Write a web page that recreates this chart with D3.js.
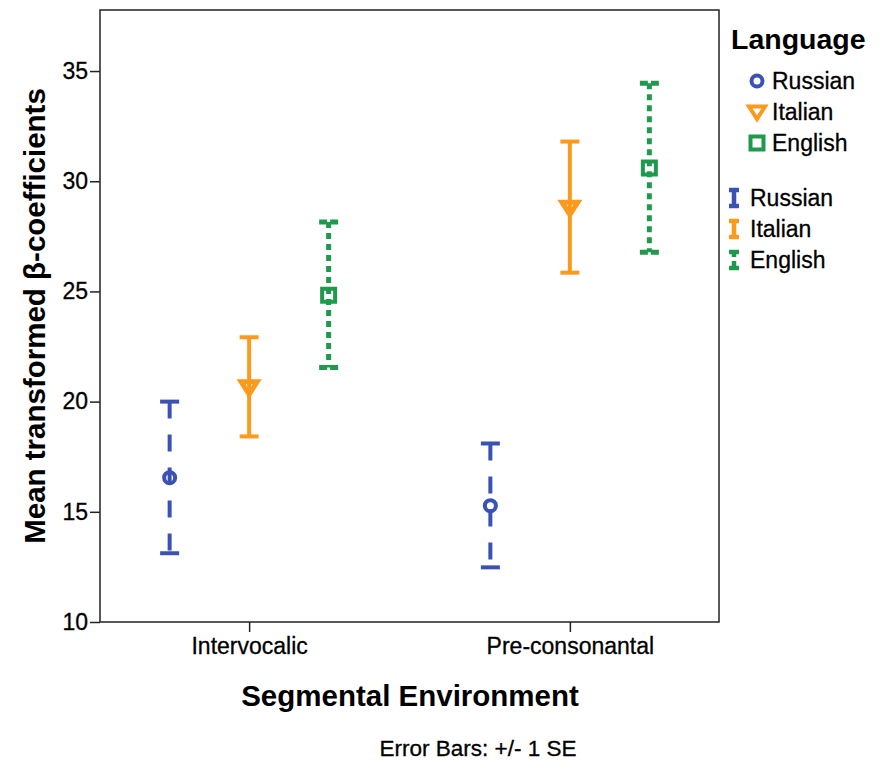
<!DOCTYPE html>
<html>
<head>
<meta charset="utf-8">
<script src="https://cdn.jsdelivr.net/npm/d3@7"></script>
<style>
  body { margin: 0; background: #fff; overflow: hidden; }
  svg { display: block; }
  text { font-family: "Liberation Sans", Arial, sans-serif; }
</style>
</head>
<body>
<div id="chart"></div>
<script>
// data
const environments = ["Intervocalic", "Pre-consonantal"];
const languages = ["Russian", "Italian", "English"];
const means = {
  Russian: [16.55, 15.28],
  Italian: [20.65, 28.8],
  English: [24.83, 30.6]
};
const lower = {
  Russian: [13.12, 12.48],
  Italian: [18.42, 25.85],
  English: [21.55, 26.78]
};
const upper = {
  Russian: [20.0, 18.1],
  Italian: [22.92, 31.8],
  English: [28.15, 34.45]
};
const yTicks = [10, 15, 20, 25, 30, 35];

const colors = { Russian: "#3a52b4", Italian: "#fb9a1d", English: "#1f9a4d" };
const dashes = { Russian: "17,16", Italian: null, English: "6,5" };
const widths = { Russian: 4, Italian: 4, English: 5 };

const w = 887, h = 761;
const margin = { top: 10, right: 168, bottom: 139, left: 100 };
const innerWidth = w - margin.left - margin.right;
const innerHeight = h - margin.top - margin.bottom;

const svg = d3.select("#chart").append("svg")
  .attr("width", w)
  .attr("height", h);

const xScale = d3.scalePoint()
  .domain(environments)
  .range([0, innerWidth])
  .padding(0.465);

const langScale = d3.scalePoint()
  .domain(languages)
  .range([-79.5, 79.5]);

const yScale = d3.scaleLinear()
  .domain([10, 37.77])
  .range([innerHeight, 0]);

const g = svg.append("g")
  .attr("transform", `translate(${margin.left},${margin.top})`);

// frame
g.append("rect")
  .attr("width", innerWidth)
  .attr("height", innerHeight)
  .attr("fill", "none")
  .attr("stroke", "#222")
  .attr("stroke-width", 1.5);

// axes
const yAxis = d3.axisLeft(yScale).tickValues(yTicks).tickSize(10).tickPadding(2);
const xAxis = d3.axisBottom(xScale).tickSize(10).tickPadding(6);

g.append("g").call(yAxis)
  .call(a => a.select(".domain").remove())
  .call(a => a.selectAll("line").attr("stroke", "#222").attr("stroke-width", 1.5))
  .call(a => a.selectAll("text").attr("font-size", 23).attr("fill", "#000")
    .attr("font-family", "Liberation Sans, Arial, sans-serif")
    .attr("stroke", "#000").attr("stroke-width", 0.3));

g.append("g").call(xAxis)
  .attr("transform", `translate(0,${innerHeight})`)
  .call(a => a.select(".domain").remove())
  .call(a => a.selectAll("line").attr("stroke", "#222").attr("stroke-width", 1.5))
  .call(a => a.selectAll("text").attr("font-size", 23).attr("fill", "#000")
    .attr("font-family", "Liberation Sans, Arial, sans-serif")
    .attr("stroke", "#000").attr("stroke-width", 0.3));

// error bars
const rows = [];
languages.forEach(lang => {
  environments.forEach((env, i) => {
    rows.push({ lang, env, mean: means[lang][i], lo: lower[lang][i], hi: upper[lang][i] });
  });
});
const cx = d => xScale(d.env) + langScale(d.lang);

const bars = g.append("g").selectAll("g").data(rows).enter().append("g");

bars.append("line")
  .attr("x1", cx).attr("x2", cx)
  .attr("y1", d => yScale(d.hi)).attr("y2", d => yScale(d.lo))
  .attr("stroke", d => colors[d.lang])
  .attr("stroke-width", d => widths[d.lang])
  .attr("stroke-dasharray", d => dashes[d.lang]);

["hi", "lo"].forEach(k => {
  bars.append("line")
    .attr("x1", d => cx(d) - 9.5).attr("x2", d => cx(d) + 9.5)
    .attr("y1", d => yScale(d[k])).attr("y2", d => yScale(d[k]))
    .attr("stroke", d => colors[d.lang])
    .attr("stroke-width", d => widths[d.lang])
    .attr("stroke-dasharray", d => d.lang === "English" ? "8,3" : null);
});

// markers
const symbolPath = {
  Russian: () => { const p = d3.path(); p.arc(0, 0, 5.5, 0, 2 * Math.PI); return p.toString(); },
  Italian: () => "M-8,-5.5L8,-5.5L0,7Z",
  English: () => "M-6.5,-6.5H6.5V6.5H-6.5Z"
};

g.append("g").selectAll("path").data(rows).enter().append("path")
  .attr("transform", d => `translate(${cx(d)},${yScale(d.mean)})`)
  .attr("d", d => symbolPath[d.lang]())
  .attr("fill", "none")
  .attr("stroke", d => colors[d.lang])
  .attr("stroke-width", d => d.lang === "Italian" ? 5 : 4);

// axis titles
svg.append("text")
  .attr("x", 410)
  .attr("y", 706)
  .attr("text-anchor", "middle")
  .attr("font-size", 29.5)
  .attr("font-weight", "bold")
  .text("Segmental Environment");

svg.append("text")
  .attr("transform", "translate(45,316) rotate(-90)")
  .attr("text-anchor", "middle")
  .attr("font-size", 29.5)
  .attr("font-weight", "bold")
  .text("Mean transformed β-coefficients");

svg.append("text")
  .attr("x", 478)
  .attr("y", 756)
  .attr("text-anchor", "middle")
  .attr("font-size", 22.5)
  .attr("stroke", "#000").attr("stroke-width", 0.3)
  .text("Error Bars: +/- 1 SE");

// legend
const legend = svg.append("g");
legend.append("text")
  .attr("x", 731).attr("y", 49)
  .attr("font-size", 28.5)
  .attr("font-weight", "bold")
  .text("Language");

const markerRows = [81, 112, 143];
languages.forEach((lang, i) => {
  legend.append("path")
    .attr("transform", `translate(757,${markerRows[i]})`)
    .attr("d", symbolPath[lang]())
    .attr("fill", "none")
    .attr("stroke", colors[lang])
    .attr("stroke-width", 4);
  legend.append("text")
    .attr("x", 772).attr("y", markerRows[i] + 8)
    .attr("font-size", 23)
    .attr("stroke", "#000").attr("stroke-width", 0.3)
    .text(lang);
});

const barRows = [198, 229, 260];
languages.forEach((lang, i) => {
  const y = barRows[i];
  const c = legend.append("g").attr("stroke", colors[lang]).attr("stroke-width", 4.5);
  c.append("line").attr("x1", 734).attr("x2", 734).attr("y1", y - 8).attr("y2", y + 8)
    .attr("stroke-dasharray", lang === "English" ? "5,4" : null);
  c.append("line").attr("x1", 729).attr("x2", 739).attr("y1", y - 8).attr("y2", y - 8);
  c.append("line").attr("x1", 729).attr("x2", 739).attr("y1", y + 8).attr("y2", y + 8);
  legend.append("text")
    .attr("x", 750).attr("y", y + 8)
    .attr("font-size", 23)
    .attr("stroke", "#000").attr("stroke-width", 0.3)
    .text(lang);
});
</script>
</body>
</html>
